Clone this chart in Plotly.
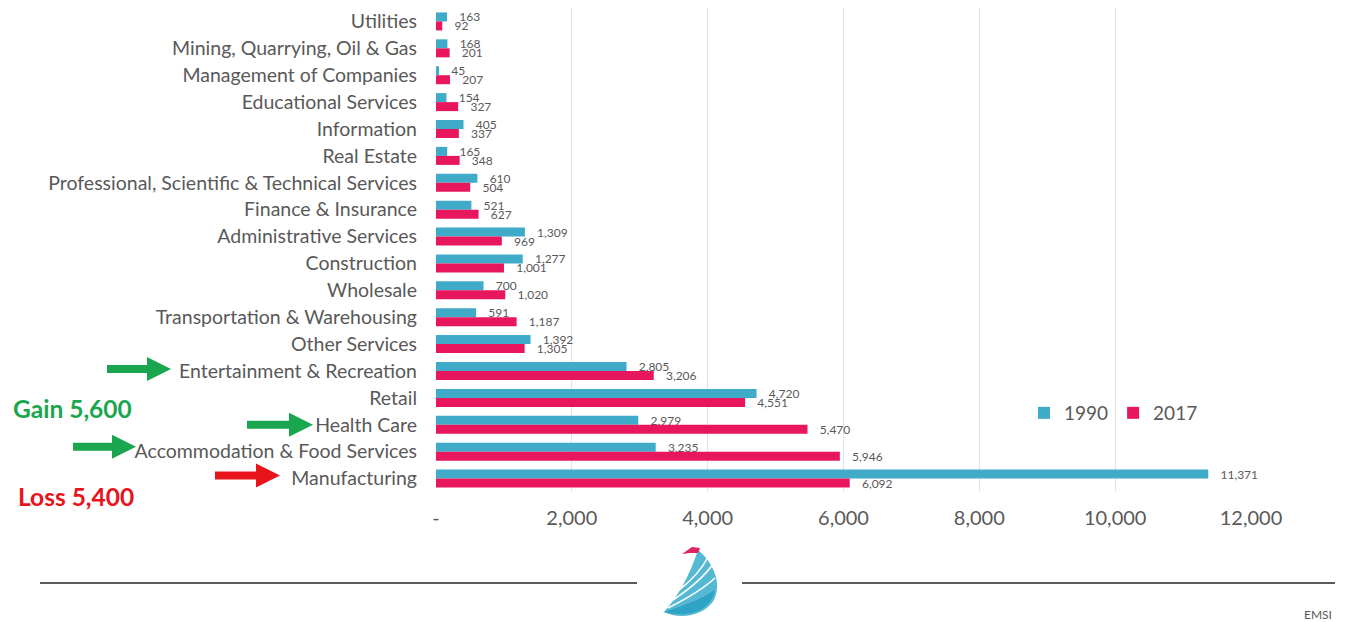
import plotly.graph_objects as go

# Industries, listed top to bottom
industries = [
    "Utilities", "Mining, Quarrying, Oil & Gas", "Management of Companies",
    "Educational Services", "Information", "Real Estate",
    "Professional, Scientific & Technical Services", "Finance & Insurance",
    "Administrative Services", "Construction", "Wholesale",
    "Transportation & Warehousing", "Other Services",
    "Entertainment & Recreation", "Retail", "Health Care",
    "Accommodation & Food Services", "Manufacturing",
]
jobs_1990 = [163, 168, 45, 154, 405, 165, 610, 521, 1309, 1277, 700, 591,
             1392, 2805, 4720, 2979, 3235, 11371]
jobs_2017 = [92, 201, 207, 327, 337, 348, 504, 627, 969, 1001, 1020, 1187,
             1305, 3206, 4551, 5470, 5946, 6092]

tick_values = [0, 2000, 4000, 6000, 8000, 10000, 12000]
tick_labels = ["-", "2,000", "4,000", "6,000", "8,000", "10,000", "12,000"]

TEAL = "#3FABC9"
CRIMSON = "#E8175D"
GREY = "#595959"
GREEN = "#1AA64E"
RED = "#E8141B"
FONT = "Lato"

# page geometry (pixels)
W, H = 1348, 622
L, R, T, B = 436, 97, 8, 130
PW, PH = W - L - R, H - T - B


def px(x, y):
    """Pixel position -> paper coordinates."""
    return (x - L) / PW, (H - B - y) / PH


def cat_y(name, dy=0):
    i = industries.index(name)
    return T + (i + 0.5) * PH / len(industries) + dy


def path_from(points, close=True):
    s = ""
    for k, (x, y) in enumerate(points):
        a, b = px(x, y)
        s += ("M" if k == 0 else "L") + f"{a:.5f},{b:.5f} "
    return s + ("Z" if close else "")


def block_arrow(x0, x1, yc, head_len=24, head_h=12, shaft_h=4):
    pts = [(x0, yc - shaft_h), (x1 - head_len, yc - shaft_h),
           (x1 - head_len, yc - head_h), (x1, yc),
           (x1 - head_len, yc + head_h), (x1 - head_len, yc + shaft_h),
           (x0, yc + shaft_h)]
    return path_from(pts)


def curve_path(segments):
    """segments: start point followed by cubic bezier triples (pixels)."""
    a, b = px(*segments[0])
    s = f"M{a:.5f},{b:.5f} "
    for c1, c2, e in segments[1:]:
        s += "C" + " ".join(f"{px(*p)[0]:.5f},{px(*p)[1]:.5f}" for p in (c1, c2, e)) + " "
    return s


PAD = "\u00a0\u00a0\u00a0"

fig = go.Figure()
fig.add_trace(go.Bar(
    y=industries, x=jobs_1990, name="1990", orientation="h",
    marker=dict(color=TEAL, line=dict(width=0)),
    text=[f"{PAD}{v:,}" for v in jobs_1990], textposition="outside",
    textfont=dict(family=FONT, size=12, color=GREY),
    constraintext="none", cliponaxis=False,
))
fig.add_trace(go.Bar(
    y=industries, x=jobs_2017, name="2017", orientation="h",
    marker=dict(color=CRIMSON, line=dict(width=0)),
    text=[f"{PAD}{v:,}" for v in jobs_2017], textposition="outside",
    textfont=dict(family=FONT, size=12, color=GREY),
    constraintext="none", cliponaxis=False,
))

shapes = []
# arrows pointing at the highlighted industries
shapes.append(dict(type="path", xref="paper", yref="paper", line=dict(width=0),
                   fillcolor=GREEN,
                   path=block_arrow(107, 171, cat_y("Entertainment & Recreation", -2))))
shapes.append(dict(type="path", xref="paper", yref="paper", line=dict(width=0),
                   fillcolor=GREEN,
                   path=block_arrow(247, 313, cat_y("Health Care"))))
shapes.append(dict(type="path", xref="paper", yref="paper", line=dict(width=0),
                   fillcolor=GREEN,
                   path=block_arrow(73, 136, cat_y("Accommodation & Food Services", -5))))
shapes.append(dict(type="path", xref="paper", yref="paper", line=dict(width=0),
                   fillcolor=RED,
                   path=block_arrow(215, 280, cat_y("Manufacturing", -3))))

# footer rules
for xa, xb in [(40, 637), (742, 1335)]:
    (a0, b0), (a1, _) = px(xa, 583), px(xb, 583)
    shapes.append(dict(type="line", xref="paper", yref="paper",
                       x0=a0, x1=a1, y0=b0, y1=b0,
                       line=dict(color="#5A5A5A", width=2)))

# sail logo
shapes.append(dict(type="path", xref="paper", yref="paper", line=dict(width=0),
                   fillcolor="#55B9D4",
                   path=curve_path([(698, 550),
                                    ((690, 575), (677, 598), (664, 612)),
                                    ((680, 620), (704, 616), (714, 600)),
                                    ((722, 584), (714, 563), (698, 550))]) + "Z"))
shapes.append(dict(type="path", xref="paper", yref="paper", line=dict(width=0),
                   fillcolor="#2FA3C6",
                   path=curve_path([(664, 612),
                                    ((680, 607), (700, 600), (715, 590)),
                                    ((712, 607), (695, 619), (664, 612))]) + "Z"))
for seg in [
    [(668, 608), ((684, 600), (702, 590), (715, 578))],
    [(673, 600), ((688, 590), (704, 577), (713, 564))],
    [(679, 590), ((692, 580), (703, 567), (708, 557))],
]:
    shapes.append(dict(type="path", xref="paper", yref="paper",
                       line=dict(color="white", width=1.6),
                       path=curve_path(seg)))
shapes.append(dict(type="path", xref="paper", yref="paper", line=dict(width=0),
                   fillcolor="#E0245E",
                   path=path_from([(682, 554), (692, 547), (700, 548),
                                   (698, 553), (690, 553)])))

annotations = []
gx, gy = px(11, 408)
annotations.append(dict(x=gx, y=gy, xref="paper", yref="paper",
                        text="<b>Gain 5,600</b>", showarrow=False,
                        xanchor="left", yanchor="middle",
                        font=dict(family=FONT, size=24.5, color=GREEN)))
lx, ly = px(16, 497)
annotations.append(dict(x=lx, y=ly, xref="paper", yref="paper",
                        text="<b>Loss 5,400</b>", showarrow=False,
                        xanchor="left", yanchor="middle",
                        font=dict(family=FONT, size=24.5, color=RED)))
ex, ey = px(1334, 614)
annotations.append(dict(x=ex, y=ey, xref="paper", yref="paper",
                        text="EMSI", showarrow=False,
                        xanchor="right", yanchor="middle",
                        font=dict(family=FONT, size=12, color=GREY)))

legx, legy = px(1024, 413)

fig.update_layout(
    width=W, height=H,
    margin=dict(l=L, r=R, t=T, b=B, pad=0),
    paper_bgcolor="white", plot_bgcolor="white",
    barmode="group", bargap=0.33, bargroupgap=0,
    font=dict(family=FONT, color=GREY),
    showlegend=True,
    legend=dict(orientation="h", x=legx, y=legy, xanchor="left",
                yanchor="middle", font=dict(family=FONT, size=19, color=GREY),
                bgcolor="rgba(0,0,0,0)", itemwidth=30, traceorder="normal"),
    shapes=shapes, annotations=annotations,
    xaxis=dict(range=[0, 12000], tickvals=tick_values, ticktext=tick_labels,
               showgrid=True, gridcolor="#E3E3E3", gridwidth=1,
               zeroline=False, showline=False, ticks="",
               tickfont=dict(family=FONT, size=20, color=GREY),
               ticklabelstandoff=12, fixedrange=True),
    yaxis=dict(categoryorder="array", categoryarray=industries,
               autorange="reversed", showgrid=False, zeroline=False,
               showline=False, ticks="",
               tickfont=dict(family=FONT, size=19.5, color=GREY),
               ticklabelstandoff=18, fixedrange=True),
)

fig.write_html("out.html")
